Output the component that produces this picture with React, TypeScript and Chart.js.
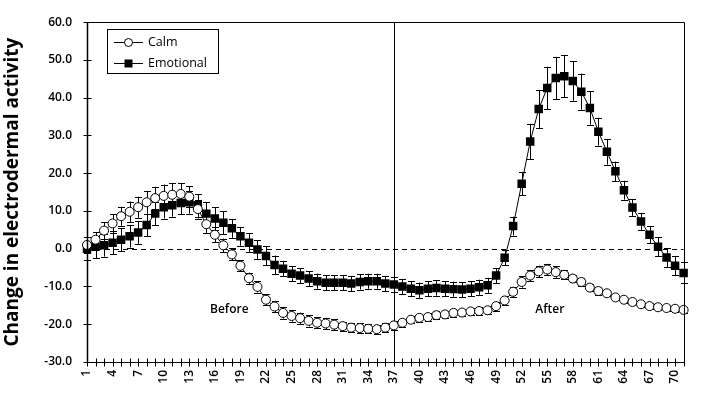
import React, { useEffect, useRef } from 'react';
import { Chart, registerables } from 'chart.js';

Chart.register(...registerables);

// ---------- data ----------
const categories: string[] = Array.from({ length: 71 }, (_, i) => String(i + 1));

const calm: number[] = [
  1.0, 2.4, 4.8, 6.7, 8.6, 9.8, 11.0, 12.3, 13.4, 14.0,
  14.3, 14.5, 13.8, 10.5, 6.5, 3.7, 0.9, -1.5, -4.5, -7.8,
  -10.1, -13.5, -15.3, -17.0, -17.8, -18.4, -19.1, -19.6, -19.8, -20.1,
  -20.5, -20.9, -21.0, -21.2, -21.3, -20.9, -20.3, -19.6, -18.8, -18.3,
  -18.1, -17.6, -17.4, -17.0, -16.9, -16.6, -16.5, -16.3, -15.2, -13.7,
  -11.4, -8.8, -7.1, -6.0, -5.5, -6.2, -6.9, -7.9, -8.8, -10.3,
  -11.2, -11.8, -12.9, -13.5, -14.1, -14.7, -15.2, -15.5, -15.7, -15.9, -16.2,
];

const emotional: number[] = [
  0.0, 0.5, 0.9, 1.6, 2.4, 3.3, 4.3, 6.3, 9.3, 11.0,
  11.5, 12.1, 12.3, 11.5, 9.3, 8.0, 6.9, 5.4, 3.3, 1.6,
  -0.2, -1.9, -4.3, -5.3, -6.6, -7.1, -7.9, -8.6, -9.0, -9.0,
  -9.0, -9.2, -8.8, -8.6, -8.6, -9.2, -9.5, -10.0, -10.6, -11.0,
  -10.6, -10.4, -10.6, -10.7, -10.8, -10.6, -10.2, -9.7, -7.1, -2.4,
  6.0, 17.2, 28.4, 37.0, 42.6, 45.2, 45.7, 44.4, 41.6, 37.3,
  31.0, 25.7, 20.5, 15.5, 10.9, 7.2, 3.7, 0.5, -2.3, -4.5, -6.4,
];

const calmErr: number[] = [
  2.0, 2.0, 2.2, 2.5, 2.5, 2.7, 2.8, 3.0, 3.0, 3.0,
  3.0, 2.8, 2.8, 2.5, 2.3, 2.0, 1.8, 1.6, 1.5, 1.5,
  1.5, 1.5, 1.5, 1.5, 1.5, 1.5, 1.5, 1.5, 1.5, 1.5,
  1.2, 1.2, 1.2, 1.2, 1.2, 1.2, 1.2, 1.0, 1.0, 1.0,
  1.0, 1.0, 1.0, 1.0, 1.0, 1.0, 1.0, 1.0, 1.2, 1.2,
  1.3, 1.5, 1.5, 1.5, 1.5, 1.5, 1.2, 1.0, 1.0, 1.0,
  1.0, 0.8, 0.8, 0.8, 0.8, 0.8, 0.8, 0.8, 0.8, 0.8, 0.8,
];

const emotionalErr: number[] = [
  3.0, 3.0, 3.0, 3.0, 3.0, 3.0, 3.0, 3.0, 3.0, 3.0,
  3.0, 3.0, 3.0, 3.0, 3.0, 3.0, 3.0, 2.5, 2.5, 2.5,
  2.5, 2.5, 2.5, 2.0, 2.0, 2.0, 2.0, 2.0, 2.0, 2.0,
  2.0, 2.0, 2.0, 2.0, 2.0, 2.0, 2.0, 2.0, 2.0, 2.0,
  2.0, 2.0, 2.0, 2.0, 2.0, 2.0, 2.0, 2.0, 2.0, 2.0,
  2.5, 3.0, 4.7, 5.0, 5.6, 5.6, 5.5, 5.2, 4.8, 4.4,
  3.7, 3.4, 2.6, 2.5, 2.2, 2.2, 2.3, 2.5, 2.5, 2.5, 2.8,
];

const seriesNames: string[] = ['Calm', 'Emotional'];
const yTitle = 'Change in electrodermal activity';
const dividerCategory = '37';
const phaseLabels: string[] = ['Before', 'After'];
const phaseCategory: number[] = [17.7, 55.3];
const phaseValue: number[] = [-16, -16];

const FONT = '"Open Sans", "DejaVu Sans", sans-serif';

const decorPlugin = {
  id: 'decor',
  beforeDatasetsDraw(chart: any) {
    const { ctx, chartArea: ca, scales } = chart;
    const x = scales.x;
    const y = scales.y;
    const line = (x1: number, y1: number, x2: number, y2: number) => {
      ctx.beginPath();
      ctx.moveTo(x1, y1);
      ctx.lineTo(x2, y2);
      ctx.stroke();
    };
    ctx.save();
    ctx.strokeStyle = '#000';
    ctx.lineWidth = 1;
    // zero dashed line
    ctx.setLineDash([5, 4]);
    const y0 = Math.round(y.getPixelForValue(0)) + 0.5;
    line(ca.left, y0, ca.right, y0);
    ctx.setLineDash([]);
    // divider
    const xv = Math.round(x.getPixelForValue(categories.indexOf(dividerCategory))) + 0.5;
    line(xv, ca.top, xv, ca.bottom);
    // error bars
    const errs = [calmErr, emotionalErr];
    chart.data.datasets.forEach((ds: any, di: number) => {
      const meta = chart.getDatasetMeta(di);
      meta.data.forEach((pt: any, i: number) => {
        const v = ds.data[i];
        const e = errs[di][i];
        const px = Math.round(pt.x) + 0.5;
        const yt = y.getPixelForValue(v + e);
        const yb = y.getPixelForValue(v - e);
        line(px, yt, px, yb);
        line(px - 3.5, Math.round(yt) + 0.5, px + 3.5, Math.round(yt) + 0.5);
        line(px - 3.5, Math.round(yb) + 0.5, px + 3.5, Math.round(yb) + 0.5);
      });
    });
    ctx.restore();
  },
  afterDraw(chart: any) {
    const { ctx, chartArea: ca, scales } = chart;
    const x = scales.x;
    const y = scales.y;
    const line = (x1: number, y1: number, x2: number, y2: number) => {
      ctx.beginPath();
      ctx.moveTo(x1, y1);
      ctx.lineTo(x2, y2);
      ctx.stroke();
    };
    ctx.save();
    ctx.strokeStyle = '#000';
    ctx.lineWidth = 1;
    const L = Math.round(ca.left) + 0.5;
    const R = Math.round(ca.right) + 0.5;
    const T = Math.round(ca.top) + 0.5;
    const B = Math.round(ca.bottom) + 0.5;
    // frame
    line(L, T, R, T);
    line(R, T, R, B);
    line(L, B, R, B);
    ctx.lineWidth = 1.5;
    line(L, T, L, B);
    ctx.lineWidth = 1;
    // y ticks crossing axis
    y.ticks.forEach((_t: any, i: number) => {
      const py = Math.round(y.getPixelForTick(i)) + 0.5;
      line(L - 4, py, L + 4, py);
    });
    // x ticks crossing axis
    categories.forEach((_c, i) => {
      const px = Math.round(x.getPixelForTick(i)) + 0.5;
      line(px, B - 4, px, B + 4);
    });
    // phase labels
    ctx.fillStyle = '#000';
    ctx.font = `600 12px ${FONT}`;
    ctx.textAlign = 'center';
    ctx.textBaseline = 'middle';
    phaseLabels.forEach((t, i) => {
      ctx.fillText(t, x.getPixelForValue(phaseCategory[i] - 1), y.getPixelForValue(phaseValue[i]));
    });
    // legend
    const bx = 107.5, by = 29.5, bw = 111, bh = 44;
    ctx.fillStyle = '#fff';
    ctx.fillRect(bx, by, bw, bh);
    ctx.strokeRect(bx, by, bw, bh);
    ctx.font = `12.5px ${FONT}`;
    ctx.textAlign = 'left';
    chart.data.datasets.forEach((ds: any, di: number) => {
      const ly = Math.round(by + 12 + di * 21) + 0.5;
      ctx.strokeStyle = '#000';
      line(114, ly, 143, ly);
      if (di === 0) {
        ctx.beginPath();
        ctx.arc(128.5, ly, 4, 0, Math.PI * 2);
        ctx.fillStyle = '#fff';
        ctx.fill();
        ctx.stroke();
      } else {
        ctx.fillStyle = '#000';
        ctx.fillRect(124.5, ly - 4, 8, 8);
      }
      ctx.fillStyle = '#000';
      ctx.fillText(ds.label, 148, ly);
    });
    ctx.restore();
  },
};

export default function App() {
  const ref = useRef<HTMLCanvasElement | null>(null);
  useEffect(() => {
    if (!ref.current) return;
    const chart = new Chart(ref.current, {
      type: 'line',
      data: {
        labels: categories,
        datasets: [
          {
            label: seriesNames[0],
            data: calm,
            borderColor: '#000',
            borderWidth: 1,
            backgroundColor: '#fff',
            pointStyle: 'circle',
            pointRadius: 4.5,
            pointBorderWidth: 1,
            pointBorderColor: '#000',
            pointBackgroundColor: '#fff',
            tension: 0,
            fill: false,
          },
          {
            label: seriesNames[1],
            data: emotional,
            borderColor: '#000',
            borderWidth: 1,
            backgroundColor: '#000',
            pointStyle: 'rect',
            pointRadius: 6,
            pointBorderWidth: 0,
            pointBackgroundColor: '#000',
            tension: 0,
            fill: false,
          },
        ],
      },
      options: {
        animation: false,
        responsive: false,
        devicePixelRatio: 1,
        layout: { padding: { left: 0, top: 14, right: 10, bottom: 0 } },
        plugins: {
          legend: { display: false },
          tooltip: { enabled: false },
        },
        scales: {
          x: {
            type: 'category',
            offset: false,
            grid: { display: false, drawTicks: false },
            border: { display: false },
            ticks: {
              autoSkip: false,
              minRotation: 90,
              maxRotation: 90,
              padding: 8,
              color: '#000',
              font: { family: FONT, size: 12, weight: '600' },
              callback: (_v: any, i: number) => (i % 3 === 0 ? categories[i] : ''),
            },
            afterFit: (s: any) => {
              s.height = 32;
            },
          },
          y: {
            min: -30,
            max: 60,
            grid: { display: false, drawTicks: false },
            border: { display: false },
            ticks: {
              stepSize: 10,
              padding: 15,
              color: '#000',
              font: { family: FONT, size: 12, weight: '600' },
              callback: (v: any) => Number(v).toFixed(1),
            },
            title: {
              display: true,
              text: yTitle,
              color: '#000',
              font: { family: FONT, size: 19, weight: 'bold' },
              padding: { top: 1, bottom: 0 },
            },
            afterFit: (s: any) => {
              s.width = 87;
            },
          },
        },
      },
      plugins: [decorPlugin],
    });
    return () => chart.destroy();
  }, []);
  return (
    <div style={{ position: 'absolute', left: 0, top: 0, width: 706, height: 394, background: '#fff' }}>
      <canvas ref={ref} width={706} height={394} style={{ display: 'block' }} />
    </div>
  );
}
